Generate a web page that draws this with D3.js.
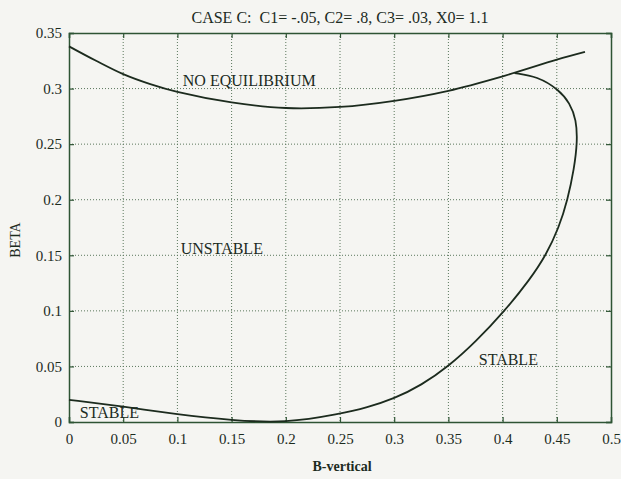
<!DOCTYPE html>
<html>
<head>
<meta charset="utf-8">
<script src="https://cdn.jsdelivr.net/npm/d3@7"></script>
<style>
  body { margin: 0; background: #f5f5f2; }
  svg { display: block; font-family: "Liberation Serif", "DejaVu Serif", serif; }
</style>
</head>
<body>
<svg id="chart" width="621" height="479"></svg>
<script>
// upper boundary (no equilibrium)
const upperX = [0, 0.025, 0.05, 0.075, 0.1, 0.15, 0.2, 0.25, 0.3, 0.35, 0.4, 0.45, 0.476];
const upperY = [0.338, 0.325, 0.313, 0.304, 0.297, 0.2875, 0.2825, 0.2835, 0.289, 0.298, 0.311, 0.326, 0.333];

// stability boundary, from the left edge round to the upper curve
const stabX = [0, 0.05, 0.1, 0.15, 0.2, 0.25, 0.275, 0.3, 0.325, 0.35, 0.375, 0.402, 0.425, 0.44, 0.452, 0.46, 0.466, 0.469, 0.468, 0.462, 0.452, 0.432, 0.411];
const stabY = [0.020, 0.014, 0.0068, 0.0015, -0.001, 0.0072, 0.013, 0.021, 0.033, 0.05, 0.072, 0.1, 0.128, 0.15, 0.175, 0.2, 0.228, 0.252, 0.272, 0.287, 0.299, 0.311, 0.314];

const xTicks = [0, 0.05, 0.1, 0.15, 0.2, 0.25, 0.3, 0.35, 0.4, 0.45, 0.5];
const yTicks = [0, 0.05, 0.1, 0.15, 0.2, 0.25, 0.3, 0.35];

const regionLabels = [
  {text: "NO EQUILIBRIUM", x: 0.105, y: 0.302},
  {text: "UNSTABLE", x: 0.103, y: 0.151},
  {text: "STABLE", x: 0.378, y: 0.051},
  {text: "STABLE", x: 0.01, y: 0.004}
];

const svg = d3.select("#chart");
const margin = {top: 33, right: 10, bottom: 57, left: 69};
const w = 621 - margin.left - margin.right;
const h = 479 - margin.top - margin.bottom;
const g = svg.append("g").attr("transform", `translate(${margin.left},${margin.top})`);

const ink = "#1c2b1e";
const frame = "#2e5434";

const x = d3.scaleLinear().domain([0, 0.5]).range([0, w]);
const y = d3.scaleLinear().domain([0, 0.35]).range([h, 0]);

// dotted grid
g.append("g").selectAll("line").data(xTicks.slice(1, -1)).join("line")
  .attr("x1", d => x(d)).attr("x2", d => x(d)).attr("y1", 0).attr("y2", h)
  .attr("stroke", "#5a775c").attr("stroke-width", 1).attr("stroke-dasharray", "1,2");
g.append("g").selectAll("line").data(yTicks.slice(1, -1)).join("line")
  .attr("x1", 0).attr("x2", w).attr("y1", d => y(d)).attr("y2", d => y(d))
  .attr("stroke", "#5a775c").attr("stroke-width", 1).attr("stroke-dasharray", "1,2");

// axes with inward ticks
const fmt = d => d === 0 ? "0" : String(d);
const axB = g.append("g").attr("transform", `translate(0,${h})`)
  .call(d3.axisBottom(x).tickValues(xTicks).tickSize(-5).tickPadding(11).tickFormat(fmt));
const axL = g.append("g")
  .call(d3.axisLeft(y).tickValues(yTicks).tickSize(-5).tickPadding(7).tickFormat(fmt));
const axT = g.append("g")
  .call(d3.axisTop(x).tickValues(xTicks).tickSize(-5).tickFormat(""));
const axR = g.append("g").attr("transform", `translate(${w},0)`)
  .call(d3.axisRight(y).tickValues(yTicks).tickSize(-5).tickFormat(""));

[axB, axL, axT, axR].forEach(a => {
  a.select(".domain").attr("stroke", frame).attr("stroke-width", 1.5);
  a.selectAll(".tick line").attr("stroke", frame).attr("stroke-width", 1.2);
  a.selectAll("text").attr("fill", ink).style("font-size", "15px")
    .style("font-family", "'Liberation Serif', serif");
});

// curves
const line = d3.line().x(d => x(d[0])).y(d => y(d[1])).curve(d3.curveCatmullRom.alpha(0.5));
const smooth = d3.line().x(d => x(d[0])).y(d => y(d[1])).curve(d3.curveBasis);
g.append("path").datum(upperX.map((v, i) => [v, upperY[i]]))
  .attr("d", line).attr("fill", "none").attr("stroke", ink).attr("stroke-width", 1.8);
g.append("path").datum(stabX.map((v, i) => [v, stabY[i]]))
  .attr("d", smooth).attr("fill", "none").attr("stroke", ink).attr("stroke-width", 1.8);

// region labels
g.selectAll(".region").data(regionLabels).join("text")
  .attr("class", "region")
  .attr("x", d => x(d.x)).attr("y", d => y(d.y))
  .attr("fill", ink).style("font-size", "16px")
  .text(d => d.text);

// title and axis labels
svg.append("text").attr("x", 340).attr("y", 23).attr("text-anchor", "middle")
  .attr("fill", ink).style("font-size", "16px").style("white-space", "pre")
  .text("CASE C:  C1= -.05, C2= .8, C3= .03, X0= 1.1");
svg.append("text").attr("x", 342).attr("y", 471).attr("text-anchor", "middle")
  .attr("fill", ink).style("font-size", "14px").style("font-weight", "bold")
  .text("B-vertical");
svg.append("text").attr("transform", "translate(20,240) rotate(-90)").attr("text-anchor", "middle")
  .attr("fill", ink).style("font-size", "14px")
  .text("BETA");
</script>
</body>
</html>
